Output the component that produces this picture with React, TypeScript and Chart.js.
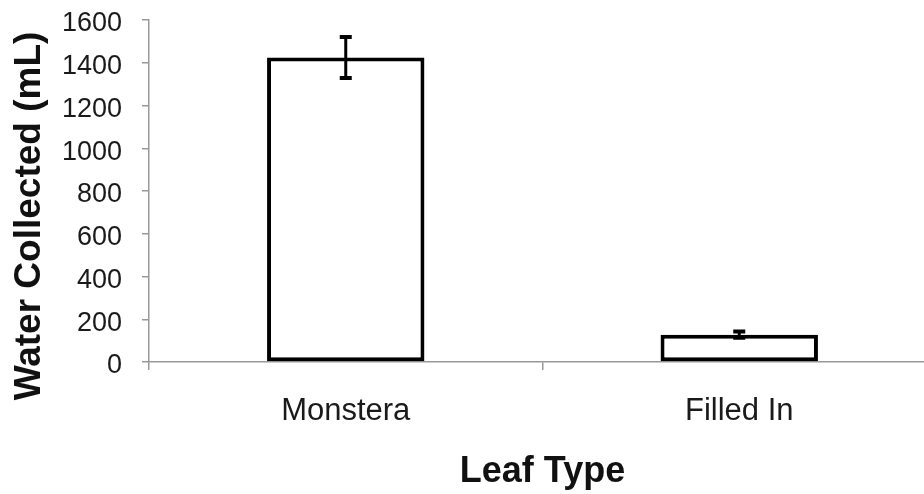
import React, { useEffect, useRef } from "react";
import { Chart, registerables } from "chart.js";

Chart.register(...registerables);

const categories = ["Monstera", "Filled In"];
const waterValues = [1425, 128];
const waterErrors = [96, 15];
const yTickMax = 1600;
const yTickStep = 200;
const yTitle = "Water Collected (mL)";
const xTitle = "Leaf Type";
const FONT = "Liberation Sans, Arial, sans-serif";

const errorBarPlugin = {
  id: "errorBars",
  afterDatasetsDraw(chart: any) {
    const meta = chart.getDatasetMeta(0);
    const ys = chart.scales.y;
    const ctx = chart.ctx;
    ctx.save();
    ctx.strokeStyle = "#000";
    meta.data.forEach((bar: any, i: number) => {
      const v = waterValues[i];
      const e = waterErrors[i];
      const yTop = ys.getPixelForValue(v + e);
      const yBot = ys.getPixelForValue(v - e);
      const x = bar.x;
      ctx.lineWidth = 3;
      ctx.beginPath();
      ctx.moveTo(x, yTop);
      ctx.lineTo(x, yBot);
      ctx.stroke();
      ctx.lineWidth = 4;
      ctx.beginPath();
      ctx.moveTo(x - 6, yTop);
      ctx.lineTo(x + 6, yTop);
      ctx.moveTo(x - 6, yBot);
      ctx.lineTo(x + 6, yBot);
      ctx.stroke();
    });
    ctx.restore();
  },
};

const yTitlePlugin = {
  id: "yTitle",
  afterDraw(chart: any) {
    const ctx = chart.ctx;
    ctx.save();
    ctx.translate(30, 216);
    ctx.rotate(-Math.PI / 2);
    ctx.fillStyle = "#111";
    ctx.font = `bold 37px ${FONT}`;
    ctx.textAlign = "center";
    ctx.textBaseline = "middle";
    ctx.fillText(yTitle, 0, 0);
    ctx.restore();
  },
};

export default function App() {
  const ref = useRef<HTMLCanvasElement | null>(null);
  useEffect(() => {
    document.body.style.margin = "0";
    document.body.style.overflow = "hidden";
    const chart = new Chart(ref.current as HTMLCanvasElement, {
      type: "bar",
      data: {
        labels: categories,
        datasets: [
          {
            data: waterValues,
            backgroundColor: "#ffffff",
            borderColor: "#000000",
            borderWidth: 4,
            borderSkipped: false,
            barPercentage: 0.4,
            categoryPercentage: 1,
          },
        ],
      },
      options: {
        responsive: false,
        animation: false,
        devicePixelRatio: 1,
        layout: { padding: { top: 20, right: 0, left: 0, bottom: 0 } },
        plugins: { legend: { display: false }, tooltip: { enabled: false } },
        scales: {
          x: {
            afterFit: (s: any) => { s.height = 132; s.paddingLeft = 0; s.paddingRight = 0; },
            grid: {
              display: true,
              drawOnChartArea: false,
              drawTicks: true,
              tickLength: 8,
              offset: true,
              color: "#999",
              lineWidth: 1.5,
            },
            border: { color: "#999", width: 1.5 },
            ticks: {
              color: "#1a1a1a",
              font: { family: FONT, size: 31 },
              padding: 23,
            },
            title: {
              display: true,
              text: xTitle,
              color: "#111",
              font: { family: FONT, size: 36, weight: "bold" },
              padding: { top: 0, bottom: 0 },
            },
          },
          y: {
            min: 0,
            max: yTickMax,
            afterFit: (s: any) => { s.width = 149; s.paddingTop = 0; s.paddingBottom = 0; },
            grid: {
              display: true,
              drawOnChartArea: false,
              drawTicks: true,
              tickLength: 7,
              color: "#999",
              lineWidth: 1.5,
            },
            border: { color: "#999", width: 1.5 },
            ticks: {
              stepSize: yTickStep,
              color: "#1a1a1a",
              font: { family: FONT, size: 27 },
              padding: 20,
              labelOffset: 4,
              callback: (v: any) => String(v),
            },
            title: { display: false },
          },
        },
      },
      plugins: [errorBarPlugin, yTitlePlugin],
    });
    return () => chart.destroy();
  }, []);
  return (
    <div style={{ width: 924, height: 494, overflow: "hidden", background: "#fff" }}>
      <canvas ref={ref} width={936} height={494} style={{ display: "block" }} />
    </div>
  );
}
